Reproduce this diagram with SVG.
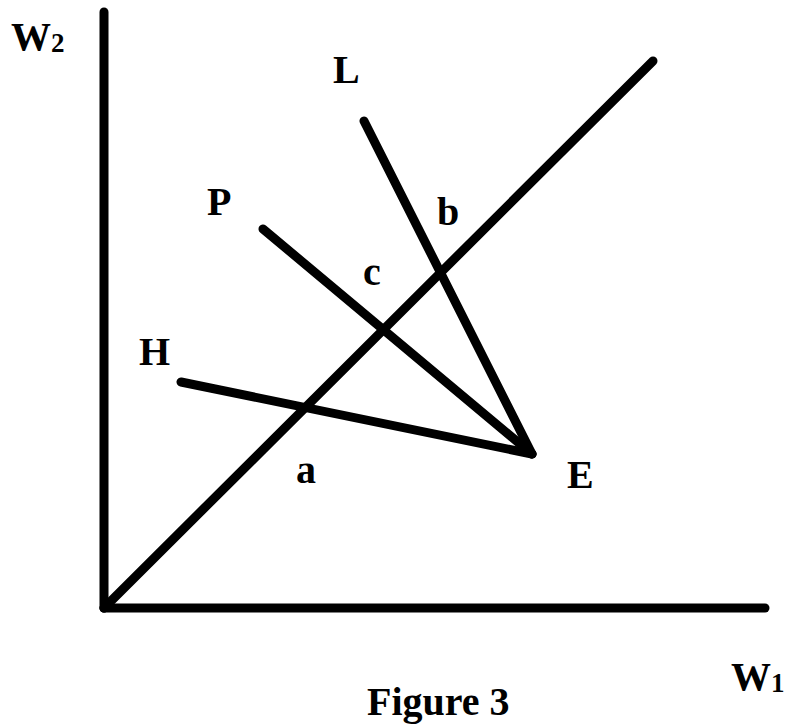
<svg xmlns="http://www.w3.org/2000/svg" width="788" height="725" viewBox="0 0 788 725">
<style>
.ln{stroke:#000;stroke-width:9;stroke-linecap:round;fill:none}
.t{font-family:"Liberation Serif","Times New Roman",serif;font-weight:bold;fill:#000}
.lb{font-size:40px}
.sub{font-size:27px}
</style>
<rect width="788" height="725" fill="#fff"/>
<g id="connectors">
<line class="ln" x1="104" y1="12" x2="104" y2="608"/>
<line class="ln" x1="104" y1="608" x2="765" y2="608"/>
<line class="ln" x1="104" y1="608" x2="653" y2="61"/>
<line class="ln" x1="364" y1="121" x2="532" y2="454"/>
<line class="ln" x1="263" y1="229" x2="532" y2="454"/>
<line class="ln" x1="181" y1="382" x2="532" y2="454"/>
</g>
<g id="axis-w2"><text class="t lb" x="11" y="50">W<tspan class="sub" dy="2">2</tspan></text></g>
<g id="axis-w1"><text class="t lb" x="731" y="690">W<tspan class="sub" dy="2">1</tspan></text></g>
<g id="node-L"><text class="t lb" x="333" y="83">L</text></g>
<g id="node-P"><text class="t lb" x="207" y="215">P</text></g>
<g id="node-H"><text class="t lb" x="139" y="365">H</text></g>
<g id="node-E"><text class="t lb" x="567" y="488">E</text></g>
<g id="node-b"><text class="t lb" x="437" y="225">b</text></g>
<g id="node-c"><text class="t lb" x="363" y="285">c</text></g>
<g id="node-a"><text class="t lb" x="296" y="483">a</text></g>
<g id="caption"><text class="t lb" x="367" y="715">Figure 3</text></g>
</svg>
